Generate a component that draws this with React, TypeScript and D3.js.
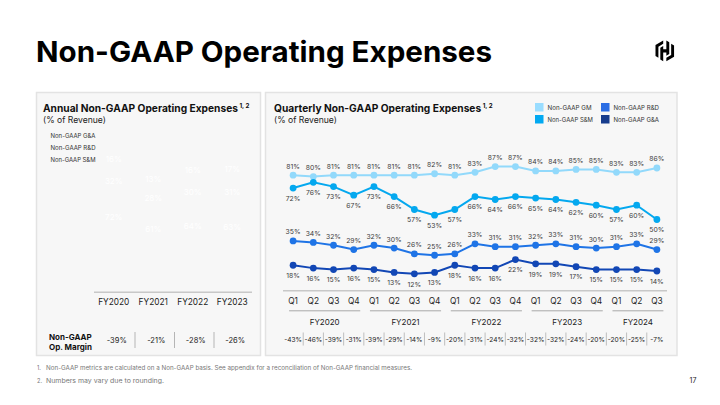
import React from 'react';
import * as d3 from 'd3';

// ---------- Data ----------
const quarterLabels = ['Q1','Q2','Q3','Q4','Q1','Q2','Q3','Q4','Q1','Q2','Q3','Q4','Q1','Q2','Q3','Q4','Q1','Q2','Q3'];
const fiscalYears = ['FY2020','FY2021','FY2022','FY2023','FY2024'];
const quartersPerYear = [4, 4, 4, 4, 3];
const gmValues = [81,80,81,81,81,81,81,82,81,83,87,87,84,84,85,85,83,83,86];
const smValues = [72,76,73,67,73,66,57,53,57,66,64,66,65,64,62,60,57,60,50];
const rdValues = [35,34,32,29,32,30,26,25,26,33,31,31,32,33,31,30,31,33,29];
const gaValues = [18,16,15,16,15,13,12,13,18,16,16,22,19,19,17,15,15,15,14];
const quarterlyMargin = [-43,-46,-39,-31,-39,-29,-14,-9,-20,-31,-24,-32,-32,-32,-24,-20,-20,-25,-7];

const annualYears = ['FY2020','FY2021','FY2022','FY2023'];
const annualSM = [72,61,64,63];
const annualRD = [32,28,30,31];
const annualGA = [16,13,16,17];
const annualMargin = [-39,-21,-28,-26];

const footnotes = [
  'Non-GAAP metrics are calculated on a Non-GAAP basis. See appendix for a reconciliation of Non-GAAP financial measures.',
  'Numbers may vary due to rounding.',
];

const FONT = "Inter, 'Open Sans', sans-serif";
const C = { gm: '#92d9fb', sm: '#04a8ef', rd: '#1f74e6', ga: '#1247b5' };
const LEG = { gm: '#9addff', sm: '#02a9f1', rd: '#2b6de4', ga: '#173c8d' };

const pct = (v: number) => `${v}%`;

export default function App() {
  // Quarterly scales
  const x = d3.scaleBand<number>().domain(d3.range(gmValues.length)).range([283, 667]);
  const cx = (i: number) => (x(i) as number) + x.bandwidth() / 2;
  const y = d3.scaleLinear().domain([0, 100]).range([291, 148]);
  const line = d3.line<number>().x((_, i) => cx(i)).y(v => y(v));

  // Annual scales
  const xa = d3.scaleBand<string>().domain(annualYears).range([94, 252]);
  const cxa = (k: string) => (xa(k) as number) + xa.bandwidth() / 2;
  const ya = d3.scaleLinear().domain([0, 100]).range([292, 180]);

  const series = [
    { key: 'gm', vals: gmValues, color: C.gm, above: true },
    { key: 'sm', vals: smValues, color: C.sm, above: false },
    { key: 'rd', vals: rdValues, color: C.rd, above: true },
    { key: 'ga', vals: gaValues, color: C.ga, above: false },
  ];

  // year groups
  let start = 0;
  const groups = fiscalYears.map((fy, gi) => {
    const s = start;
    const e = start + quartersPerYear[gi] - 1;
    start += quartersPerYear[gi];
    return { fy, x0: cx(s) - 4, x1: cx(e) + 6.5 };
  });

  const logo = (
    <g transform="translate(655.5,40.5) scale(0.58)" fill="#000">
      <polygon points="13.3,0 0,7.7 0,26.9 5,29.8 5,10.6 13.3,5.8" />
      <polygon points="8.3,12.4 13.3,9.5 13.3,15.2 18.7,15.2 18.7,0 23.7,2.9 23.7,23.2 18.7,26.1 18.7,20.5 13.3,20.5 13.3,35.6 8.3,32.7" />
      <polygon points="18.7,35.6 32,27.9 32,8.7 27,5.8 27,25 18.7,29.8" />
    </g>
  );

  return (
    <svg width={720} height={405} style={{ position: 'absolute', left: 0, top: 0, display: 'block', background: '#fff' }} fontFamily={FONT}>
      <rect x={0} y={0} width={720} height={405} fill="#fff" />
      {/* Title */}
      <text x={36} y={62} fontSize={29} fontWeight={700} fill="#000" textLength={456} lengthAdjust="spacingAndGlyphs">Non-GAAP Operating Expenses</text>
      {logo}

      {/* Panels */}
      <rect x={36.5} y={92.5} width={224} height={263} fill="#f7f7f7" stroke="#e3e3e3" strokeWidth={1.5} />
      <rect x={265.5} y={92.5} width={411.5} height={263} fill="#f7f7f7" stroke="#e3e3e3" strokeWidth={1.5} />

      {/* Annual panel */}
      <text x={43} y={112} fontSize={10.2} fontWeight={700} fill="#111">
        Annual Non-GAAP Operating Expenses
        <tspan dx={1.5} dy={-4.5} fontSize={6.2}>1, 2</tspan>
      </text>
      <text x={43} y={122.5} fontSize={8.6} fill="#222">(% of Revenue)</text>
      {['Non-GAAP G&A', 'Non-GAAP R&D', 'Non-GAAP S&M'].map((t, i) => (
        <text key={t} x={50.5} y={137.8 + i * 12.3} fontSize={5.8} fill="#333" textLength={45} lengthAdjust="spacingAndGlyphs">{t}</text>
      ))}
      {annualYears.map((k, i) => {
        const c1 = annualSM[i];
        const c2 = c1 + annualRD[i];
        const c3 = c2 + annualGA[i];
        return (
          <g key={k} fontSize={8} fill="#ffffff" textAnchor="middle">
            <text x={cxa(k)} y={ya(c1) + 8.5}>{pct(annualSM[i])}</text>
            <text x={cxa(k)} y={ya(c2) + 8.5}>{pct(annualRD[i])}</text>
            <text x={cxa(k)} y={ya(c3) + 4}>{pct(annualGA[i])}</text>
          </g>
        );
      })}
      <line x1={94} x2={252} y1={292.3} y2={292.3} stroke="#c8c8c8" strokeWidth={1.5} />
      {annualYears.map(k => (
        <text key={k} x={cxa(k)} y={304.8} fontSize={8.3} fill="#222" textAnchor="middle">{k}</text>
      ))}
      <text x={49} y={340} fontSize={8} fontWeight={700} fill="#111">Non-GAAP</text>
      <text x={49} y={349.5} fontSize={8} fontWeight={700} fill="#111">Op. Margin</text>
      {annualYears.map((k, i) => (
        <text key={k} x={cxa(k) + 3} y={342.6} fontSize={7.5} fill="#222" textAnchor="middle">{`${annualMargin[i]}%`}</text>
      ))}
      {annualYears.slice(0, -1).map((k) => (
        <line key={k} x1={cxa(k) + xa.bandwidth() / 2 + 1.5} x2={cxa(k) + xa.bandwidth() / 2 + 1.5} y1={332} y2={348} stroke="#b5b5b5" strokeWidth={1} />
      ))}

      {/* Quarterly panel */}
      <text x={274} y={112} fontSize={10.2} fontWeight={700} fill="#111">
        Quarterly Non-GAAP Operating Expenses
        <tspan dx={1.5} dy={-4.5} fontSize={6.2}>1, 2</tspan>
      </text>
      <text x={274} y={122.5} fontSize={8.6} fill="#222">(% of Revenue)</text>

      {/* Legend */}
      {[
        { t: 'Non-GAAP GM', c: LEG.gm, lx: 535, ly: 103 },
        { t: 'Non-GAAP S&M', c: LEG.sm, lx: 535, ly: 115 },
        { t: 'Non-GAAP R&D', c: LEG.rd, lx: 601, ly: 103 },
        { t: 'Non-GAAP G&A', c: LEG.ga, lx: 601, ly: 115 },
      ].map(d => (
        <g key={d.t}>
          <rect x={d.lx} y={d.ly} width={8.5} height={8.5} fill={d.c} />
          <text x={d.lx + 12.5} y={d.ly + 6.8} fontSize={6} fill="#333" textLength={d.t === 'Non-GAAP GM' ? 44 : 45.5} lengthAdjust="spacingAndGlyphs">{d.t}</text>
        </g>
      ))}

      {/* Lines */}
      {series.map(s => (
        <g key={s.key}>
          <path d={line(s.vals) || ''} fill="none" stroke={s.color} strokeWidth={2} />
          {s.vals.map((v, i) => (
            <circle key={i} cx={cx(i)} cy={y(v)} r={3.4} fill={s.color} />
          ))}
          {s.vals.map((v, i) => (
            <text key={'t' + i} x={cx(i)} y={s.above ? y(v) - 6.6 : y(v) + 12.8} fontSize={6.8} fill="#3c3c3c" textAnchor="middle">{pct(v)}</text>
          ))}
        </g>
      ))}

      {/* Axis */}
      <line x1={283} x2={667} y1={290.8} y2={290.8} stroke="#c8c8c8" strokeWidth={1.5} />
      {quarterLabels.map((q, i) => (
        <text key={i} x={cx(i)} y={304} fontSize={8.3} fill="#222" textAnchor="middle">{q}</text>
      ))}
      {groups.map(g => (
        <g key={g.fy}>
          <line x1={g.x0} x2={g.x1} y1={310.8} y2={310.8} stroke="#a8a8a8" strokeWidth={1} />
          <text x={(g.x0 + g.x1) / 2} y={324.5} fontSize={8} fill="#222" textAnchor="middle">{g.fy}</text>
        </g>
      ))}
      {quarterlyMargin.map((m, i) => (
        <text key={i} x={cx(i)} y={341.5} fontSize={6.6} fill="#222" textAnchor="middle">{`${m}%`}</text>
      ))}
      {quarterlyMargin.slice(0, -1).map((_, i) => (
        <line key={i} x1={cx(i) + x.step() / 2} x2={cx(i) + x.step() / 2} y1={332.5} y2={345.5} stroke="#b0b0b0" strokeWidth={0.8} />
      ))}

      {/* Footnotes */}
      {footnotes.map((f, i) => (
        <g key={i} fontSize={5.6} fill="#777">
          <text x={37} y={370 + i * 12.5}>{`${i + 1}.`}</text>
          <text x={46} y={370 + i * 12.5} textLength={i === 0 ? 366 : 118} lengthAdjust="spacingAndGlyphs">{f}</text>
        </g>
      ))}
      <text x={693} y={383} fontSize={7} fill="#222" textAnchor="middle">17</text>
    </svg>
  );
}
